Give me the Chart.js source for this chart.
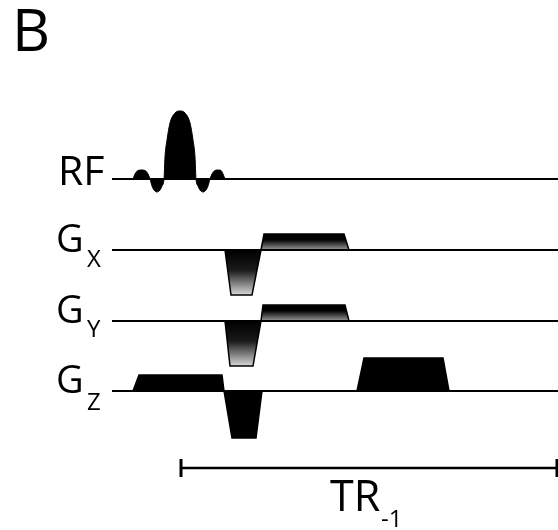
<!DOCTYPE html>
<html>
<head>
<meta charset="utf-8">
<script src="https://cdn.jsdelivr.net/npm/chart.js@4.4.0/dist/chart.umd.min.js"></script>
<style>
body { margin: 0; background: #fff; }
canvas { display: block; }
</style>
</head>
<body>
<canvas id="seq" width="558" height="530"></canvas>
<script>
// Pulse sequence diagram (panel B)
// time and amplitude are in arbitrary units

const panelLabel = 'B'
const channelNames = ['RF', 'G', 'G', 'G']
const channelSubs = ['', 'X', 'Y', 'Z']

// RF: sinc shaped excitation pulse
const rfTime = [133, 135, 138, 141.5, 145, 148, 150, 152, 154, 157, 160, 162, 164, 165, 167, 170, 175, 180, 185, 190, 193, 195, 196, 198, 200, 203, 206, 208, 210, 212, 215, 218, 221, 223, 225]
const rfAmp = [0, 5, 8.5, 9, 8.5, 5, 0, -7, -11, -13, -11, -7, 0, 22, 39, 56, 66, 68, 66, 56, 39, 22, 0, -7, -11, -13, -11, -7, 0, 5, 8.5, 9, 8.5, 5, 0]

// Gx: dephasing lobe + readout lobe
const gxTime = [225, 231, 252, 261, 264, 344, 349]
const gxAmp = [0, -45, -45, 0, 16, 16, 0]

// Gy: phase encoding lobe + second lobe
const gyTime = [225, 230, 253, 261, 263, 345, 349]
const gyAmp = [0, -45, -45, 0, 16, 16, 0]

// Gz: slice select, rephasing, spoiler
const gzTime = [133, 139, 222, 224, 232, 256, 262, 357, 364, 443, 449]
const gzAmp = [0, 16, 16, 0, -47, -47, 0, 0, 33, 33, 0]

// repetition time marker
const trStart = 181
const trEnd = 557
const trLabel = 'TR'
const trSub = '-1'

// layout of the channels on the shared y axis
const seqStart = 112
const seqEnd = 558
const channelBase = [0, -71, -142, -212]
const trLevel = -289

const labelFont = '"Open Sans", sans-serif'

const toPoints = (times, amps, base) => times.map((t, i) => ({x: t, y: amps[i] + base}))

// vertical gradient: black at the top of each lobe fading to grey
const lobeGradient = (context, base, top, bottom) => {
    const chart = context.chart
    if (!chart.chartArea) return '#000'
    const ys = chart.scales.y
    const yTop = ys.getPixelForValue(base + top)
    const yBase = ys.getPixelForValue(base)
    const yBot = ys.getPixelForValue(base + bottom)
    const g = chart.ctx.createLinearGradient(0, yTop, 0, yBot)
    const f = (yBase - yTop) / (yBot - yTop)
    g.addColorStop(0, '#000')
    g.addColorStop(f * 0.35, '#000')
    g.addColorStop(f, '#9a9a9a')
    g.addColorStop(f, '#000')
    g.addColorStop(f + (1 - f) * 0.45, '#1a1a1a')
    g.addColorStop(1, '#d8d8d8')
    return g
}

const baseLines = channelBase.map(b => ({
    data: [{x: seqStart, y: b}, {x: seqEnd, y: b}],
    borderColor: '#000',
    borderWidth: 2.2,
    pointRadius: 0,
    fill: false
}))

const labelPlugin = {
    id: 'labels',
    afterDraw(chart) {
        const ctx = chart.ctx
        const xs = chart.scales.x
        const ys = chart.scales.y
        const subDrop = [0, 17, 16, 19]
        ctx.save()
        ctx.fillStyle = '#000'
        ctx.textBaseline = 'alphabetic'
        ctx.textAlign = 'left'

        ctx.font = '59px ' + labelFont
        ctx.fillText(panelLabel, xs.getPixelForValue(12), ys.getPixelForValue(channelBase[0]) - 128)

        channelNames.forEach((name, i) => {
            const yb = ys.getPixelForValue(channelBase[i])
            if (channelSubs[i] === '') {
                ctx.font = '41px ' + labelFont
                ctx.fillText(name, xs.getPixelForValue(58), yb + 6)
            } else {
                ctx.font = '38px ' + labelFont
                ctx.fillText(name, xs.getPixelForValue(56), yb + 2)
                ctx.font = '24px ' + labelFont
                ctx.fillText(channelSubs[i], xs.getPixelForValue(87), yb + subDrop[i])
            }
        })

        const yt = ys.getPixelForValue(trLevel)
        ctx.font = '43px ' + labelFont
        ctx.fillText(trLabel, xs.getPixelForValue(330), yt + 43)
        ctx.font = '24px ' + labelFont
        ctx.fillText(trSub, xs.getPixelForValue(381), yt + 59)
        ctx.restore()
    }
}

const seqChart = new Chart(document.getElementById('seq'), {
    type: 'line',
    data: {
        datasets: [
            ...baseLines,
            {
                data: toPoints(rfTime, rfAmp, channelBase[0]),
                borderColor: '#000',
                borderWidth: 1,
                backgroundColor: '#000',
                cubicInterpolationMode: 'monotone',
                pointRadius: 0,
                fill: {value: channelBase[0]}
            },
            {
                data: toPoints(gxTime, gxAmp, channelBase[1]),
                borderColor: '#000',
                borderWidth: 1.5,
                backgroundColor: (c) => lobeGradient(c, channelBase[1], 16, -45),
                pointRadius: 0,
                fill: {value: channelBase[1]}
            },
            {
                data: toPoints(gyTime, gyAmp, channelBase[2]),
                borderColor: '#000',
                borderWidth: 1.5,
                backgroundColor: (c) => lobeGradient(c, channelBase[2], 16, -45),
                pointRadius: 0,
                fill: {value: channelBase[2]}
            },
            {
                data: toPoints(gzTime, gzAmp, channelBase[3]),
                borderColor: '#000',
                borderWidth: 1.5,
                backgroundColor: '#000',
                pointRadius: 0,
                fill: {value: channelBase[3]}
            },
            {
                data: [{x: trStart, y: trLevel}, {x: trEnd, y: trLevel}],
                borderColor: '#000',
                borderWidth: 2.4,
                pointStyle: 'line',
                rotation: 90,
                pointRadius: 9,
                pointBorderWidth: 3,
                pointBorderColor: '#000',
                fill: false,
                clip: false
            }
        ]
    },
    options: {
        responsive: false,
        animation: false,
        devicePixelRatio: 1,
        layout: {padding: 0, autoPadding: false},
        plugins: {
            legend: {display: false},
            tooltip: {enabled: false}
        },
        scales: {
            x: {type: 'linear', min: 0, max: 558, display: false},
            y: {type: 'linear', min: -351, max: 179, display: false}
        }
    },
    plugins: [labelPlugin]
});
</script>
</body>
</html>
